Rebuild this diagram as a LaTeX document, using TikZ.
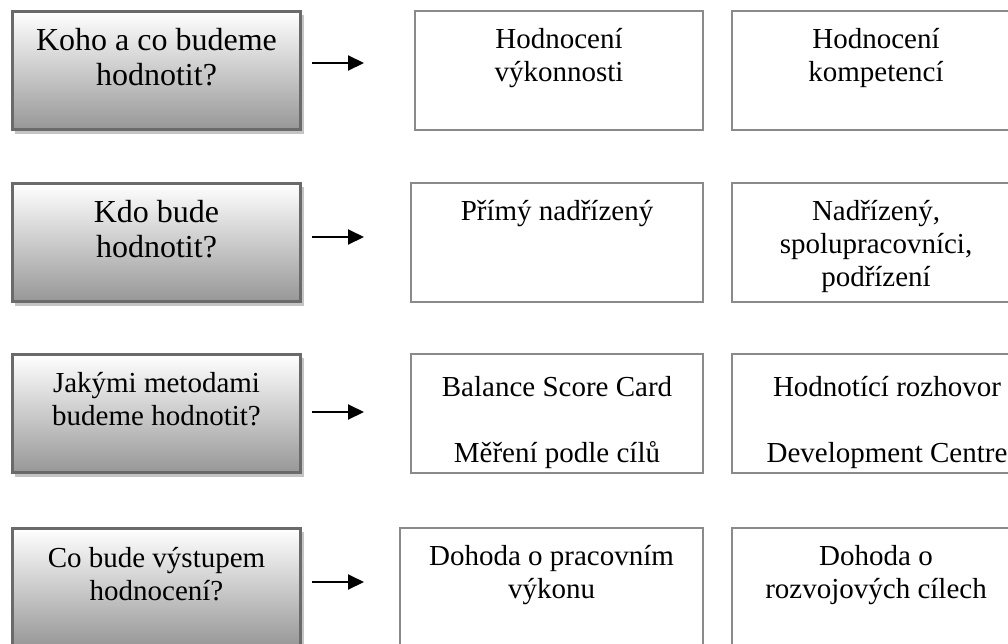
\documentclass[tikz,border=0pt]{standalone}
\usepackage{fontspec}
\setmainfont{Liberation Serif}
\usetikzlibrary{arrows.meta,shadows}
\definecolor{qframe}{HTML}{6A6A6A}
\definecolor{qshade}{HTML}{C4C4C4}
\definecolor{qbottom}{HTML}{979797}
\definecolor{aframe}{HTML}{8A8A8A}
\tikzset{
  question/.style={rectangle, draw=qframe, line width=2.6pt,
    top color=white, bottom color=qbottom,
    minimum width=288.4pt, minimum height=118.4pt, inner sep=0pt,
    general shadow={fill=qshade, shadow xshift=3pt, shadow yshift=-4pt}},
  answer/.style={rectangle, draw=aframe, line width=1.8pt, fill=white,
    minimum height=119.2pt, inner sep=0pt},
  bigtext/.style={align=center, inner sep=0pt, anchor=north,
    font=\fontsize{32}{35}\selectfont},
  midtext/.style={align=center, inner sep=0pt, anchor=north,
    font=\fontsize{29}{33.4}\selectfont},
  flow/.style={line width=2pt, -{Triangle[length=16pt,width=15pt]}}
}
\begin{document}
\begin{tikzpicture}[x=1pt,y=-1pt]
\clip (0,0) rectangle (1008,643);
\fill[white] (0,0) rectangle (1008,643);

% questions on the left
\node[question] (q1) at (156.5,70.5) {};
\node[question] (q2) at (156.5,242.5) {};
\node[question] (q3) at (156.5,413.5) {};
\node[question] (q4) at (156.5,587.5) {};
\node[bigtext] (q1t) at (156.5,25.5) {\strut Koho a co budeme\\hodnotit?};
\node[bigtext] (q2t) at (156.5,197.5) {\strut Kdo bude\\hodnotit?};
\node[midtext] (q3t) at (156.5,368.6) {\strut Jakými metodami\\budeme hodnotit?};
\node[midtext] (q4t) at (156.5,543.6) {\strut Co bude výstupem\\hodnocení?};

% arrows
\coordinate (s1) at (312,63);  \coordinate (e1) at (364,63);
\coordinate (s2) at (312,237); \coordinate (e2) at (364,237);
\coordinate (s3) at (312,412); \coordinate (e3) at (364,412);
\coordinate (s4) at (312,582); \coordinate (e4) at (364,582);
\draw[flow] (s1) -- (e1);
\draw[flow] (s2) -- (e2);
\draw[flow] (s3) -- (e3);
\draw[flow] (s4) -- (e4);

% first column of answers
\node[answer, minimum width=288.2pt] (a1) at (559,70.5) {};
\node[answer, minimum width=292.2pt] (a2) at (557,242.5) {};
\node[answer, minimum width=292.2pt] (a3) at (557,413.5) {};
\node[answer, minimum width=303.2pt] (a4) at (551.5,587.5) {};
\node[midtext] (a1t) at (559,24.6) {\strut Hodnocení\\výkonnosti};
\node[midtext] (a2t) at (557,196.6) {\strut Přímý nadřízený};
\node[midtext] (a3t) at (557,372.6) {\strut Balance Score Card\\\strut\\Měření podle cílů};
\node[midtext] (a4t) at (551.5,541.6) {\strut Dohoda o pracovním\\výkonu};

% second column of answers
\node[answer, minimum width=288.2pt] (b1) at (876,70.5) {};
\node[answer, minimum width=288.2pt] (b2) at (876,242.5) {};
\node[answer, minimum width=310.2pt] (b3) at (887,413.5) {};
\node[answer, minimum width=288.2pt] (b4) at (876,587.5) {};
\node[midtext] (b1t) at (876,24.6) {\strut Hodnocení\\kompetencí};
\node[midtext] (b2t) at (876,196.6) {\strut Nadřízený,\\spolupracovníci,\\podřízení};
\node[midtext] (b3t) at (887,372.6) {\strut Hodnotící rozhovor\\\strut\\Development Centre};
\node[midtext] (b4t) at (876,541.6) {\strut Dohoda o\\rozvojových cílech};
\end{tikzpicture}
\end{document}
